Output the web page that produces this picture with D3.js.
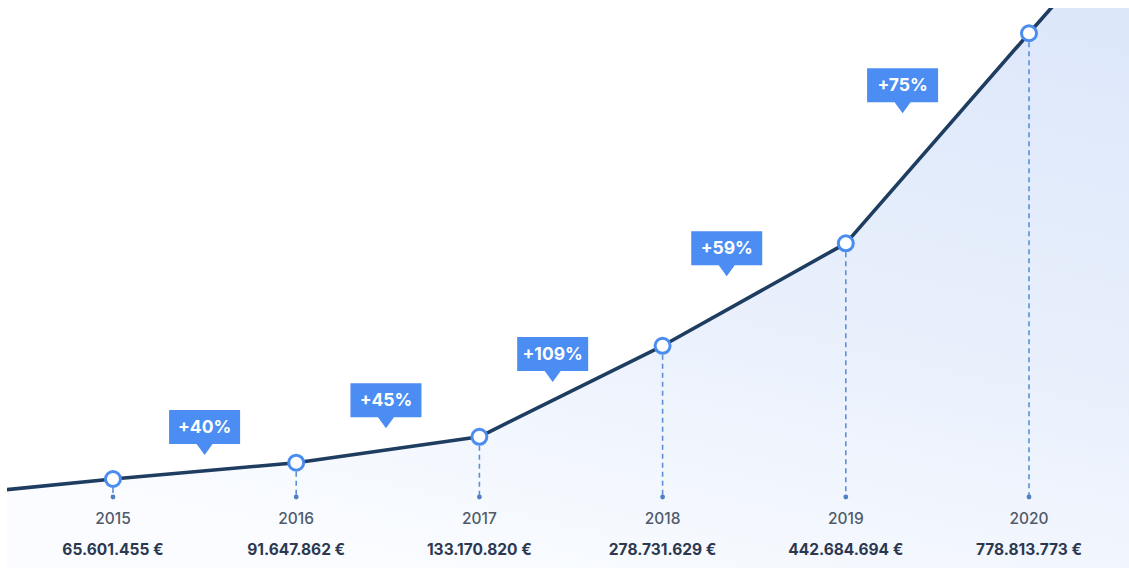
<!DOCTYPE html>
<html>
<head>
<meta charset="utf-8">
<script src="https://cdn.jsdelivr.net/npm/d3@7"></script>
<style>
  html, body { margin: 0; padding: 0; background: #ffffff; }
  svg { display: block; font-family: Inter, "Open Sans", sans-serif; }
</style>
</head>
<body>
<svg id="chart" width="1129" height="568"></svg>
<script>
// Yearly turnover (EUR)
const years = [2015, 2016, 2017, 2018, 2019, 2020];
const values = [65601455, 91647862, 133170820, 278731629, 442684694, 778813773];
const valueLabels = ["65.601.455 €", "91.647.862 €", "133.170.820 €", "278.731.629 €", "442.684.694 €", "778.813.773 €"];

// Line continues past the first and last year toward the edges
const leadYears = [2014.4, 2020.6];
const leadValues = [48000000, 979000000];

// Year-over-year growth callouts, pinned at (year, value) where the pointer tip sits
const growthLabels = ["+40%", "+45%", "+109%", "+59%", "+75%"];
const growthYears = [2015.50, 2016.49, 2017.40, 2018.35, 2019.31];
const growthValues = [104000000, 147000000, 221000000, 390000000, 651000000];

const W = 1129, H = 568;
const svg = d3.select("#chart");

const x = d3.scaleLinear().domain([2015, 2020]).range([113, 1029]);
const y = d3.scaleLinear().domain([0, 800000000]).range([520, 20]);

const series = [
  { year: leadYears[0], value: leadValues[0] },
  ...years.map((yr, i) => ({ year: yr, value: values[i] })),
  { year: leadYears[1], value: leadValues[1] }
];
const points = years.map((yr, i) => ({ year: yr, value: values[i], label: valueLabels[i] }));

const defs = svg.append("defs");
defs.append("clipPath").attr("id", "plot-clip")
  .append("rect").attr("x", 7).attr("y", 8).attr("width", W - 7).attr("height", H - 8);

const grad = defs.append("linearGradient").attr("id", "area-fill")
  .attr("x1", "75%").attr("y1", "0%").attr("x2", "35%").attr("y2", "100%");
grad.append("stop").attr("offset", "0%").attr("stop-color", "#dbe6fa");
grad.append("stop").attr("offset", "55%").attr("stop-color", "#e9f0fc");
grad.append("stop").attr("offset", "100%").attr("stop-color", "#fafcff");

const plot = svg.append("g").attr("clip-path", "url(#plot-clip)");

const area = d3.area()
  .x(d => x(d.year)).y0(H).y1(d => y(d.value))
  .curve(d3.curveLinear);
const line = d3.line()
  .x(d => x(d.year)).y(d => y(d.value))
  .curve(d3.curveLinear);

plot.append("path").datum(series)
  .attr("d", area).attr("fill", "url(#area-fill)");

// Dashed drop lines from each point to the axis row
const dropY = 497;
const drops = svg.append("g");
drops.selectAll("line").data(points).join("line")
  .attr("x1", d => x(d.year)).attr("x2", d => x(d.year))
  .attr("y1", d => y(d.value) + 9).attr("y2", dropY)
  .attr("stroke", "#5d8fd6").attr("stroke-width", 1.6)
  .attr("stroke-dasharray", "5,4");
drops.selectAll("circle").data(points).join("circle")
  .attr("cx", d => x(d.year)).attr("cy", dropY).attr("r", 2.4)
  .attr("fill", "#4f7fc4");

plot.append("path").datum(series)
  .attr("d", line).attr("fill", "none")
  .attr("stroke", "#1e3d60").attr("stroke-width", 3.6)
  .attr("stroke-linejoin", "round")
  .attr("stroke-linecap", "round");

svg.append("g").selectAll("circle").data(points).join("circle")
  .attr("cx", d => x(d.year)).attr("cy", d => y(d.value)).attr("r", 7.5)
  .attr("fill", "#ffffff").attr("stroke", "#4a8cf0").attr("stroke-width", 3);

// Year and amount labels
const labels = svg.append("g").attr("text-anchor", "middle");
labels.selectAll("text.year").data(points).join("text")
  .attr("class", "year")
  .attr("x", d => x(d.year)).attr("y", 524)
  .attr("font-size", 15.5).attr("font-weight", 500).attr("fill", "#505a6b")
  .text(d => d.year);
labels.selectAll("text.amount").data(points).join("text")
  .attr("class", "amount")
  .attr("x", d => x(d.year)).attr("y", 555)
  .attr("font-size", 15.5).attr("font-weight", 700).attr("fill", "#2b3850")
  .text(d => d.label);

// Growth callouts with a downward pointer
const boxW = 71, boxH = 34, tipH = 11, tipHalf = 8;
const callouts = svg.append("g").selectAll("g")
  .data(growthLabels.map((t, i) => ({ text: t, year: growthYears[i], value: growthValues[i] })))
  .join("g")
  .attr("transform", d => `translate(${x(d.year)},${y(d.value)})`);
callouts.append("path")
  .attr("d", `M${-boxW / 2},${-tipH - boxH} h${boxW} v${boxH} h${-(boxW / 2 - tipHalf)} L0,0 L${-tipHalf},${-tipH} h${-(boxW / 2 - tipHalf)} Z`)
  .attr("fill", "#4b8df2");
callouts.append("text")
  .attr("x", 0).attr("y", -tipH - boxH / 2 + 6)
  .attr("text-anchor", "middle")
  .attr("font-size", 17.5).attr("font-weight", 700).attr("fill", "#ffffff")
  .text(d => d.text);
</script>
</body>
</html>
